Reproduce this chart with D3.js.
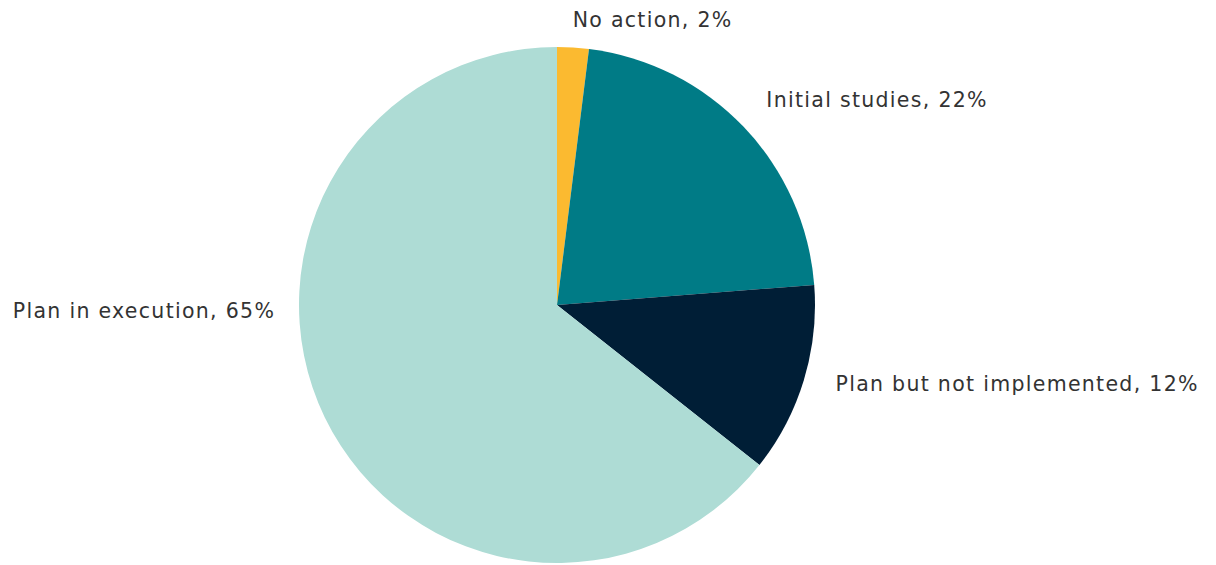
<!DOCTYPE html>
<html>
<head>
<meta charset="utf-8">
<script src="https://d3js.org/d3.v7.min.js"></script>
<style>
  body { margin: 0; background: #fff; }
  text { font-family: "DejaVu Sans", sans-serif; fill: #333; letter-spacing: 1.3px; }
</style>
</head>
<body>
<svg id="chart" width="1216" height="565"></svg>
<script>
// data (pie starts at 12 o'clock, clockwise)
var categories = ["No action", "Initial studies", "Plan but not implemented", "Plan in execution"];
var shares = [2, 22, 12, 65];
var colours = ["#FBBA30", "#007B86", "#001E36", "#AEDCD5"];

var cx = 557, cy = 305, radius = 258;
var svg = d3.select("#chart");

var pie = d3.pie().sort(null).value(function(d){ return d; });
var arcs = pie(shares);
var arc = d3.arc().innerRadius(0).outerRadius(radius);

var g = svg.append("g").attr("transform", "translate(" + cx + "," + cy + ")");

g.selectAll("path")
  .data(arcs)
  .enter()
  .append("path")
    .attr("d", arc)
    .attr("fill", function(d, i){ return colours[i]; });

// labels go just outside the slice's mid angle; the big slice's label
// sits level with the centre, left of the pie. small nudges copy the original
var nudge = [[-2, -2], [4, -9], [7, -4], [2, 6]];
function labelPos(d, i) {
  var mid = (d.startAngle + d.endAngle) / 2;
  if (d.endAngle - d.startAngle > Math.PI) mid = 1.5 * Math.PI;
  var r = radius * 1.1;
  return [Math.sin(mid) * r + nudge[i][0], -Math.cos(mid) * r + nudge[i][1], mid];
}

g.selectAll("text.lbl")
  .data(arcs)
  .enter()
  .append("text")
    .attr("class", "lbl")
    .attr("x", function(d, i){ return labelPos(d, i)[0]; })
    .attr("y", function(d, i){ return labelPos(d, i)[1]; })
    .attr("dy", "0.35em")
    .attr("text-anchor", function(d, i){ return labelPos(d, i)[2] < Math.PI ? "start" : "end"; })
    .style("font-size", "20.5px")
    .text(function(d, i){ return categories[i] + ", " + shares[i] + "%"; });
</script>
</body>
</html>
